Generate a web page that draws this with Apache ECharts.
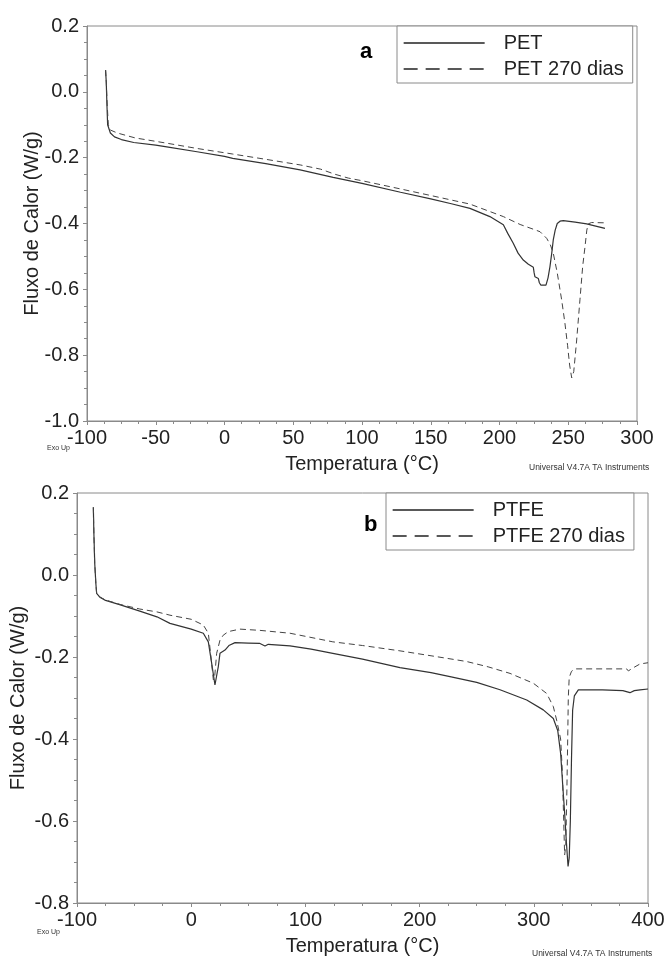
<!DOCTYPE html>
<html>
<head>
<meta charset="utf-8">
<script src="https://cdn.jsdelivr.net/npm/echarts@6/dist/echarts.min.js"></script>
<style>
html,body{margin:0;padding:0;background:#fff;}
#c{width:668px;height:961px;}
</style>
</head>
<body>
<div id="c"></div>
<script>
// ---- Data (Temperatura °C, Fluxo de Calor W/g) ----
var petLabels = ['PET', 'PET 270 dias'];
var ptfeLabels = ['PTFE', 'PTFE 270 dias'];

var petSolid = [
  [-86.5, 0.066], [-86, 0.03], [-85.5, -0.04], [-85, -0.1], [-83, -0.125], [-80, -0.137],
  [-75, -0.145], [-66, -0.154], [-50, -0.162], [-42, -0.167], [-20, -0.182], [0, -0.196],
  [6, -0.202], [30, -0.218], [55, -0.237], [79, -0.26], [100, -0.278], [128, -0.305],
  [150, -0.325], [165, -0.34], [178.5, -0.354], [193, -0.379], [202.8, -0.404], [206, -0.43],
  [210, -0.46], [213.5, -0.49], [217.3, -0.511], [221, -0.524], [224.6, -0.533], [225.2, -0.55],
  [225.8, -0.562], [228.2, -0.567], [229, -0.58], [230, -0.587], [233.8, -0.587], [235.3, -0.565],
  [236.7, -0.531], [238, -0.49], [239.1, -0.45], [240.5, -0.42], [242, -0.4], [244, -0.393],
  [246.4, -0.391], [255, -0.396], [263.4, -0.401], [270, -0.408], [276.7, -0.415]
];
var petAged = [
  [-86.5, 0.066], [-86, 0.03], [-85.3, -0.04], [-84.5, -0.1], [-83, -0.116], [-78, -0.125],
  [-65, -0.14], [-42, -0.156], [-20, -0.172], [6, -0.189], [30, -0.205], [55, -0.222],
  [70, -0.235], [80, -0.25], [90, -0.262], [100, -0.27], [128, -0.295], [150, -0.315],
  [178.5, -0.341], [202.8, -0.379], [215, -0.403], [225, -0.418], [229.5, -0.425],
  [234.3, -0.445], [237, -0.465], [239.1, -0.49], [242, -0.55], [245.2, -0.632], [247.5, -0.7],
  [249.5, -0.77], [251, -0.83], [252.5, -0.869], [254, -0.85], [256, -0.76], [258.5, -0.632],
  [260.5, -0.53], [262.2, -0.47], [263.5, -0.42], [264.6, -0.401], [267, -0.397], [276.7, -0.398]
];
var ptfeSolid = [
  [-85.7, 0.165], [-85.2, 0.1], [-84.5, 0.03], [-83.5, -0.02], [-82.8, -0.045], [-80, -0.054],
  [-75, -0.062], [-62, -0.073], [-45, -0.088], [-30, -0.102], [-18.6, -0.118], [0, -0.132],
  [10.6, -0.142], [15, -0.163], [17.9, -0.215], [20.8, -0.268], [22, -0.25], [23.7, -0.224],
  [25.2, -0.191], [29.6, -0.183], [33, -0.172], [38.4, -0.165], [50, -0.166], [60.2, -0.167],
  [64.6, -0.173], [67.5, -0.169], [86.5, -0.173], [105, -0.181], [124, -0.191], [150, -0.205],
  [182.8, -0.226], [210, -0.238], [226.6, -0.248], [250, -0.262], [270.4, -0.28], [293.8, -0.305],
  [308.3, -0.329], [317.1, -0.35], [321, -0.38], [323.5, -0.435], [325.5, -0.52], [327, -0.58],
  [328.5, -0.65], [330, -0.711], [331, -0.69], [332, -0.6], [333, -0.45], [334, -0.33],
  [335.5, -0.295], [339, -0.28], [360, -0.28], [378, -0.282], [384.2, -0.287], [388, -0.282],
  [393, -0.28], [400, -0.278]
];
var ptfeAged = [
  [-85.7, 0.165], [-85.2, 0.1], [-84.5, 0.03], [-83.5, -0.02], [-82.8, -0.045], [-80, -0.054],
  [-75, -0.061], [-62, -0.072], [-45, -0.083], [-30, -0.09], [-18.6, -0.098], [0, -0.108],
  [10.6, -0.122], [15, -0.142], [17.3, -0.2], [19.4, -0.256], [20.5, -0.25], [22.3, -0.191],
  [25.2, -0.159], [28, -0.147], [32.5, -0.138], [42.7, -0.132], [60, -0.135], [86.5, -0.142],
  [124, -0.163], [150, -0.172], [182.8, -0.185], [210, -0.197], [241.2, -0.211], [260, -0.224],
  [279.2, -0.24], [299.6, -0.264], [311.3, -0.289], [317.1, -0.321], [320, -0.354], [323.5, -0.4],
  [325, -0.48], [326, -0.58], [327, -0.683], [328, -0.66], [329, -0.52], [329.8, -0.38],
  [330.2, -0.3], [331, -0.25], [333, -0.235], [336, -0.229], [360, -0.229], [381.3, -0.229],
  [382.8, -0.234], [386, -0.228], [393, -0.217], [400, -0.214]
];

var xTitle = 'Temperatura (°C)';
var yTitle = 'Fluxo de Calor (W/g)';

// ---- Styling ----
var FONT = '"Liberation Sans", Arial, sans-serif';
var AX = '#8a8a8a';
var TXT = '#222';

function xAxisCfg(gi, min, max, interval) {
  return {
    type: 'value', gridIndex: gi, min: min, max: max, interval: interval,
    name: xTitle, nameLocation: 'middle', nameGap: 33, nameMoveOverlap: false,
    nameTextStyle: { fontFamily: FONT, fontSize: 20, color: TXT },
    axisLine: { show: true, onZero: false, lineStyle: { color: AX, width: 1 } },
    axisTick: { show: true, length: 4, lineStyle: { color: AX } },
    minorTick: { show: true, splitNumber: 4, length: 3, lineStyle: { color: AX } },
    splitLine: { show: false },
    axisLabel: { fontFamily: FONT, fontSize: 20, color: TXT, margin: 7 }
  };
}
function yAxisCfg(gi, min, max, interval, gap) {
  return {
    type: 'value', gridIndex: gi, min: min, max: max, interval: interval,
    name: yTitle, nameLocation: 'middle', nameGap: gap, nameMoveOverlap: false,
    nameTextStyle: { fontFamily: FONT, fontSize: 20, color: TXT },
    axisLine: { show: true, onZero: false, lineStyle: { color: AX, width: 1 } },
    axisTick: { show: true, length: 4, lineStyle: { color: AX } },
    minorTick: { show: true, splitNumber: 4, length: 3, lineStyle: { color: AX } },
    splitLine: { show: false },
    axisLabel: { fontFamily: FONT, fontSize: 20, color: TXT, margin: 8,
      formatter: function (v) { return v.toFixed(1); } }
  };
}
function lineSeries(name, data, gi, dashed) {
  return {
    type: 'line', name: name, data: data, xAxisIndex: gi, yAxisIndex: gi,
    symbol: 'none', smooth: false, animation: false,
    lineStyle: dashed ? { color: '#444', width: 1, type: [6, 4] } : { color: '#333', width: 1.2, type: 'solid' },
    itemStyle: { color: dashed ? '#444' : '#333' }
  };
}
function legendCfg(names, left, top) {
  return {
    left: left, top: top, orient: 'vertical',
    data: [
      { name: names[0], lineStyle: { type: 'solid', width: 1.3, color: '#222' } },
      { name: names[1], lineStyle: { type: [14, 8], width: 1.3, color: '#222' } }
    ],
    itemStyle: { opacity: 0, color: 'transparent', borderWidth: 0 },
    itemWidth: 81, itemHeight: 20, itemGap: 6,
    padding: [7, 9, 4, 6],
    borderColor: AX, borderWidth: 1, borderRadius: 0,
    backgroundColor: '#fff',
    textStyle: { fontFamily: FONT, fontSize: 20, color: TXT, padding: [0, 0, 0, 14] },
    selectedMode: false
  };
}

var chart = echarts.init(document.getElementById('c'), null, { renderer: 'canvas' });
chart.setOption({
  backgroundColor: '#fff',
  animation: false,
  grid: [
    { left: 87, top: 26, width: 550, height: 395, show: true, borderColor: AX, borderWidth: 1, backgroundColor: 'transparent' },
    { left: 77, top: 493, width: 571, height: 410, show: true, borderColor: AX, borderWidth: 1, backgroundColor: 'transparent' }
  ],
  xAxis: [ xAxisCfg(0, -100, 300, 50), xAxisCfg(1, -100, 400, 100) ],
  yAxis: [ yAxisCfg(0, -1.0, 0.2, 0.2, 45), yAxisCfg(1, -0.8, 0.2, 0.2, 49) ],
  legend: [ legendCfg(petLabels, 397, 26), legendCfg(ptfeLabels, 386, 493) ],
  series: [
    lineSeries(petLabels[0], petSolid, 0, false),
    lineSeries(petLabels[1], petAged, 0, true),
    lineSeries(ptfeLabels[0], ptfeSolid, 1, false),
    lineSeries(ptfeLabels[1], ptfeAged, 1, true)
  ],
  graphic: [
    { type: 'text', left: 360, top: 41, style: { text: 'a', font: 'bold 22px ' + FONT, fill: '#000' } },
    { type: 'text', left: 364, top: 514, style: { text: 'b', font: 'bold 22px ' + FONT, fill: '#000' } },
    { type: 'text', left: 47, top: 445, style: { text: 'Exo Up', font: '7px ' + FONT, fill: '#333' } },
    { type: 'text', left: 37, top: 929, style: { text: 'Exo Up', font: '7px ' + FONT, fill: '#333' } },
    { type: 'text', left: 529, top: 463, style: { text: 'Universal V4.7A TA Instruments', font: '8.5px ' + FONT, fill: '#333' } },
    { type: 'text', left: 532, top: 949, style: { text: 'Universal V4.7A TA Instruments', font: '8.5px ' + FONT, fill: '#333' } }
  ]
});
</script>
</body>
</html>
